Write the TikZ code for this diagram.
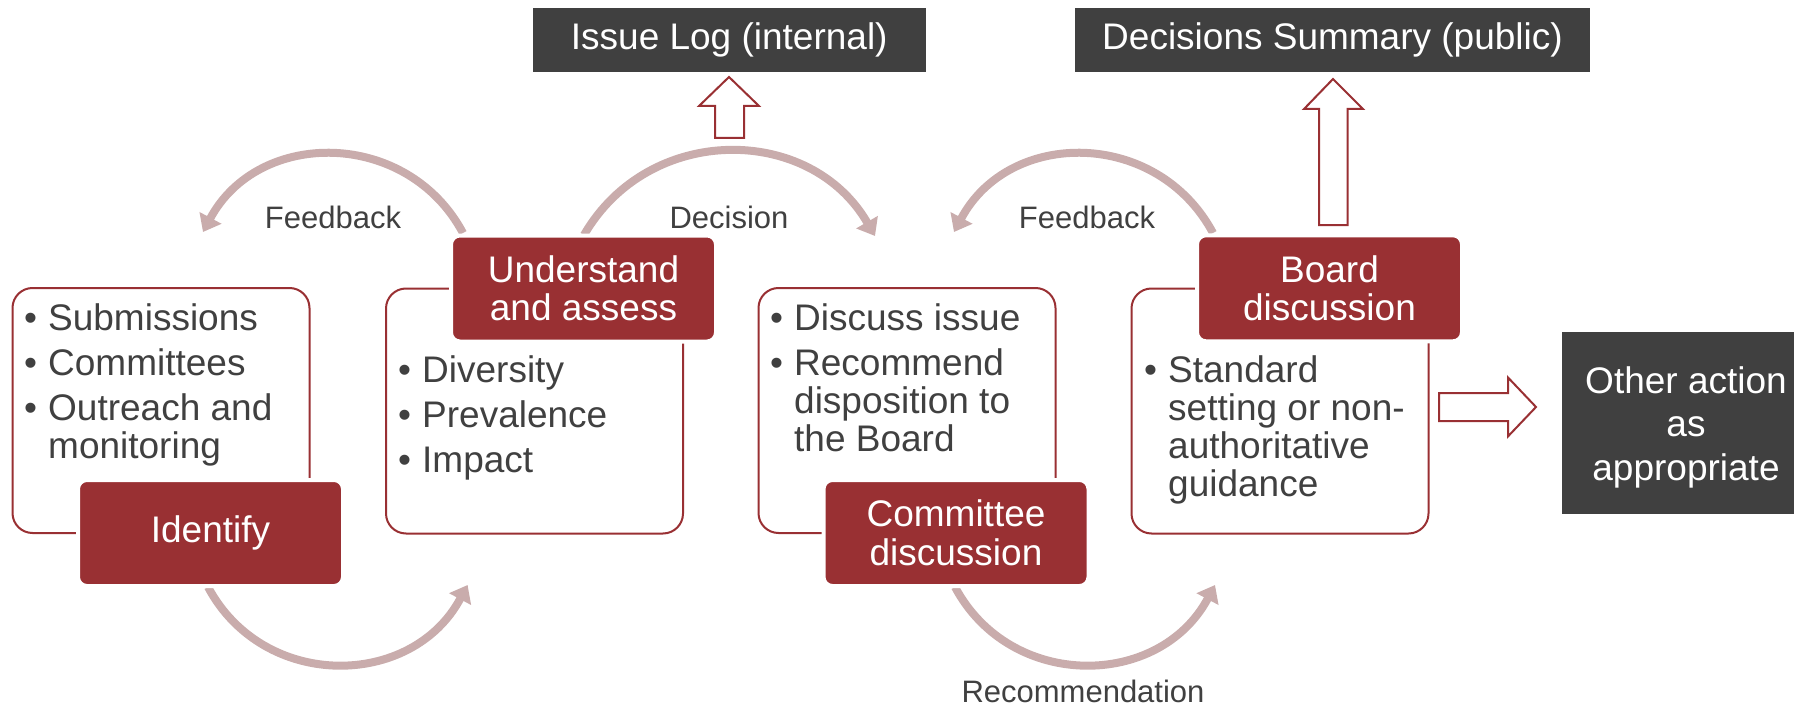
\documentclass[tikz,border=0pt]{standalone}
\usepackage{fontspec}
\setmainfont{Liberation Sans}
\usetikzlibrary{arrows.meta}
\definecolor{brick}{RGB}{153,48,51}
\definecolor{slate}{RGB}{64,64,64}
\definecolor{rose}{RGB}{201,172,172}
\definecolor{ink}{RGB}{64,64,64}
\newcommand\stagefont{\fontsize{37}{38.5}\selectfont}
\newcommand\notefont{\fontsize{31}{36}\selectfont}
\newcommand\bu{\makebox[24pt][l]{\textbullet}}
\newcommand\cont{\hspace*{24pt}}
\newcommand\blist[1]{\parbox[t]{330pt}{\fontsize{37}{38}\selectfont\noindent#1}}
\begin{document}
\begin{tikzpicture}[x=1pt,y=-1pt,
  panel/.style={draw=brick, line width=2pt, rounded corners=20pt, fill=white,
    minimum width=297pt, minimum height=245pt, inner sep=0pt},
  stage/.style={fill=brick, draw=white, line width=4pt, rounded corners=9pt,
    text=white, font=\stagefont, align=center, inner sep=0pt,
    minimum width=265pt, minimum height=106pt},
  darkbox/.style={fill=slate, text=white, font=\stagefont, align=center, inner sep=0pt},
  cyc/.style={draw=rose, line width=8pt, -{Triangle[width=24pt,length=16pt]}},
  lbl/.style={text=ink, font=\notefont, anchor=base, inner sep=0pt},
  items/.style={text=ink, anchor=base west, inner sep=0pt},
  blockarrow/.style={draw=brick, fill=white, line width=2pt, line join=miter}]
\useasboundingbox (0,0) rectangle (1794,706);

% cycle arrows between the stages
\coordinate (fbA-s) at (463,233);  \coordinate (fbA-e) at (203,232);
\coordinate (dec-s) at (584,235);  \coordinate (dec-e) at (875,236);
\coordinate (fbB-s) at (1213,233); \coordinate (fbB-e) at (954,232);
\coordinate (upA-s) at (208,587);  \coordinate (upA-e) at (467.6,585);
\coordinate (rec-s) at (955,587);  \coordinate (rec-e) at (1215,585);
\draw[cyc] (fbA-s) .. controls (407.5,129) and (258.5,128) .. (fbA-e);
\draw[cyc] (dec-s) .. controls (648.7,123) and (810.3,124) .. (dec-e);
\draw[cyc] (fbB-s) .. controls (1157.5,129) and (1009.5,128) .. (fbB-e);
\draw[cyc] (upA-s) .. controls (263.5,691) and (412,689) .. (upA-e);
\draw[cyc] (rec-s) .. controls (1010.5,691) and (1159.5,689) .. (rec-e);

% content panels
\node[panel] (p1) at (161,410.5) {};
\node[panel] (p2) at (534.5,411) {};
\node[panel] (p3) at (907,410.5) {};
\node[panel] (p4) at (1280,411) {};

% bullet lists
\node[items] (l1) at (24,330) {\blist{\bu Submissions\\[7pt]\bu Committees\\[7pt]\bu Outreach and\\\cont monitoring}};
\node[items] (l2) at (398,382) {\blist{\bu Diversity\\[7pt]\bu Prevalence\\[7pt]\bu Impact}};
\node[items] (l3) at (770,330) {\blist{\bu Discuss issue\\[7pt]\bu Recommend\\\cont disposition to\\\cont the Board}};
\node[items] (l4) at (1144,382) {\blist{\bu Standard\\\cont setting or non-\\\cont authoritative\\\cont guidance}};

% stage titles
\node[stage] (identify) at (210.5,533) {Identify};
\node[stage] (understand) at (583.5,288.5) {Understand\\and assess};
\node[stage] (committee) at (956,533) {Committee\\discussion};
\node[stage] (board) at (1329.5,288.3) {Board\\discussion};

% outputs
\node[darkbox, minimum width=393.5pt, minimum height=64pt] (issuelog) at (729.25,40) {Issue Log (internal)};
\node[darkbox, minimum width=515pt, minimum height=64pt] (summary) at (1332.5,40) {Decisions Summary (public)};
\node[darkbox, minimum width=247.5pt, minimum height=182pt] (other) at (1686,423) {};
\node[text=white, font=\stagefont, align=center, inner sep=0pt] (other-t) at ([yshift=-4pt]other.center) {Other action\\[5pt]as\\[5pt]appropriate};

% hollow block arrows towards the outputs
\draw[blockarrow] (715,138) -- (715,106) -- (699,106) -- (729,77) -- (759,106) -- (744,106) -- (744,138) -- cycle;
\draw[blockarrow] (1319,225) -- (1319,109) -- (1304,109) -- (1333,79) -- (1363,109) -- (1347.5,109) -- (1347.5,225) -- cycle;
\draw[blockarrow] (1439,393) -- (1508,393) -- (1508,377.5) -- (1536,407) -- (1508,436.4) -- (1508,421) -- (1439,421) -- cycle;

% arrow labels
\node[lbl] (t-fbA) at (333,228) {Feedback};
\node[lbl] (t-dec) at (729,228) {Decision};
\node[lbl] (t-fbB) at (1087,228) {Feedback};
\node[lbl] (t-rec) at (1083,702) {Recommendation};
\end{tikzpicture}
\end{document}
